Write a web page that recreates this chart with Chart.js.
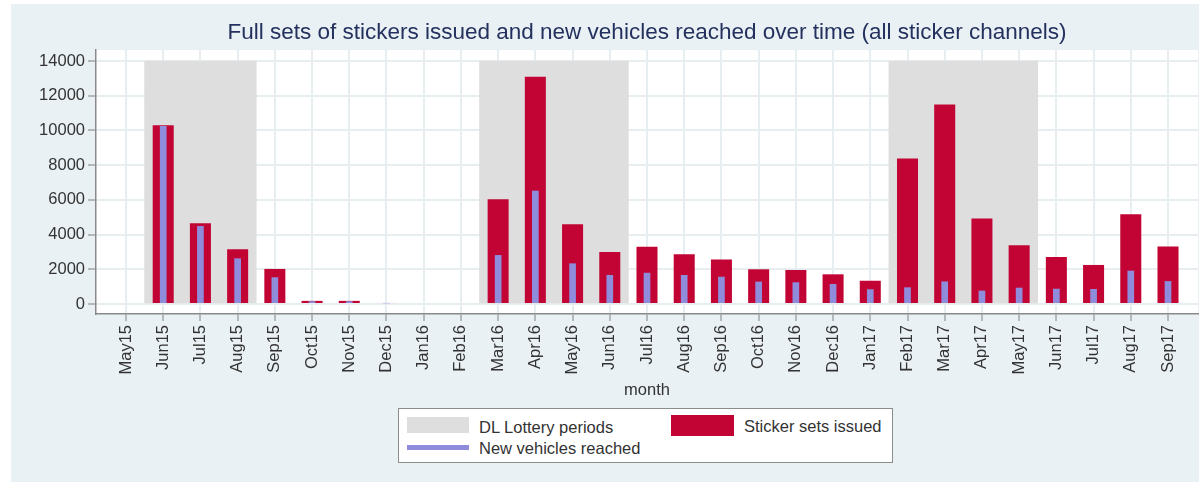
<!DOCTYPE html>
<html>
<head>
<meta charset="utf-8">
<title>Stickers issued and vehicles reached</title>
<script src="https://cdn.jsdelivr.net/npm/chart.js@4/dist/chart.umd.min.js"></script>
<style>
    body { margin: 0; background: #ffffff; font-family: "Liberation Sans", Arial, sans-serif; }
    #fundo { position: absolute; left: 11px; top: 4px; width: 1188px; height: 478px; background: #e9f1f4; }
    #grafico { position: absolute; left: 0; top: 0; }
    #legenda { position: absolute; left: 398px; top: 408px; width: 493px; height: 53px; background: #ffffff; border: 1px solid #8c8c8c; color: #333333; font-size: 16.5px; }
    #legenda .item { position: absolute; height: 22px; line-height: 22px; white-space: nowrap; }
    #legenda .caixa { position: absolute; }
</style>
</head>
<body>
<div id="fundo"></div>
<canvas id="grafico" width="1199" height="482"></canvas>
<div id="legenda"></div>

<script>
var meses = ['May15', 'Jun15', 'Jul15', 'Aug15', 'Sep15', 'Oct15', 'Nov15', 'Dec15', 'Jan16', 'Feb16',
    'Mar16', 'Apr16', 'May16', 'Jun16', 'Jul16', 'Aug16', 'Sep16', 'Oct16', 'Nov16', 'Dec16',
    'Jan17', 'Feb17', 'Mar17', 'Apr17', 'May17', 'Jun17', 'Jul17', 'Aug17', 'Sep17'];

var adesivos = [null, 10300, 4650, 3150, 2020, 180, 180, 60, null, null,
    6030, 13100, 4590, 3000, 3300, 2860, 2570, 2000, 1960, 1710,
    1340, 8390, 11500, 4920, 3380, 2710, 2250, 5170, 3320];

var veiculos = [null, 10250, 4490, 2630, 1540, 160, 160, 40, null, null,
    2820, 6530, 2340, 1670, 1800, 1670, 1570, 1290, 1250, 1150,
    850, 960, 1300, 770, 940, 880, 865, 1920, 1320];

// periodos do sorteio (faixa cinza ate o topo do eixo)
var sorteio = [null, 14000, 14000, 14000, null, null, null, null, null, null,
    14000, 14000, 14000, 14000, null, null, null, null, null, null,
    null, 14000, 14000, 14000, 14000, null, null, null, null];

var ticksY = [0, 2000, 4000, 6000, 8000, 10000, 12000, 14000];

var titulo = 'Full sets of stickers issued and new vehicles reached over time (all sticker channels)';
var nomes = ['DL Lottery periods', 'Sticker sets issued', 'New vehicles reached'];
var cores = ['#dedede', '#c20434', '#8f8cdc'];


function pontos(valores) {
    return valores.map(function (v, i) {
        return { x: i, y: v };
    });
}


// fundo branco so na area do grafico
var fundoArea = {
    id: 'fundoArea',
    beforeDraw: function (chart) {
        var a = chart.chartArea;
        var ctx = chart.ctx;
        ctx.save();
        ctx.fillStyle = '#ffffff';
        ctx.fillRect(a.left, a.top, a.right - a.left, a.bottom - a.top);
        ctx.restore();
    }
};


function montaLegenda() {
    var el = document.getElementById('legenda');
    var html = '';
    html += '<div class="caixa" style="left:8px;top:8px;width:62px;height:16px;background:' + cores[0] + '"></div>';
    html += '<div class="item" style="left:80px;top:7px">' + nomes[0] + '</div>';
    html += '<div class="caixa" style="left:272px;top:6px;width:63px;height:21px;background:' + cores[1] + '"></div>';
    html += '<div class="item" style="left:345px;top:6px">' + nomes[1] + '</div>';
    html += '<div class="caixa" style="left:8px;top:36px;width:62px;height:5px;background:' + cores[2] + '"></div>';
    html += '<div class="item" style="left:80px;top:28px">' + nomes[2] + '</div>';
    el.innerHTML = html;
}


function loadGrafico() {
    var fonte = '"Liberation Sans", Arial, sans-serif';
    var ctx = document.getElementById('grafico').getContext('2d');
    var grafico = new Chart(ctx, {
        type: 'bar',
        data: {
            datasets: [{
                label: nomes[2],
                data: pontos(veiculos),
                backgroundColor: cores[2],
                barPercentage: 0.18,
                categoryPercentage: 1,
                grouped: false,
                order: 1
            }, {
                label: nomes[1],
                data: pontos(adesivos),
                backgroundColor: cores[1],
                barPercentage: 0.565,
                categoryPercentage: 1,
                grouped: false,
                order: 2
            }, {
                label: nomes[0],
                data: pontos(sorteio),
                backgroundColor: cores[0],
                barPercentage: 1,
                categoryPercentage: 1,
                grouped: false,
                order: 3
            }]
        },
        options: {
            responsive: false,
            animation: false,
            layout: { padding: { left: 0, right: 1, top: 0, bottom: 78 } },
            plugins: {
                legend: { display: false },
                tooltip: { enabled: false },
                title: {
                    display: true,
                    text: titulo,
                    fullSize: false,
                    color: '#24315e',
                    font: { family: fonte, size: 22.5, weight: 'normal' },
                    padding: { top: 19.5, bottom: 3.5 }
                }
            },
            scales: {
                x: {
                    type: 'linear',
                    min: -0.806,
                    max: 28.806,
                    offset: false,
                    afterBuildTicks: function (s) {
                        s.ticks = meses.map(function (m, i) { return { value: i }; });
                    },
                    afterFit: function (s) { s.height = 90; },
                    ticks: {
                        autoSkip: false,
                        minRotation: 90,
                        maxRotation: 90,
                        padding: 4,
                        color: '#333333',
                        font: { family: fonte, size: 16.5 },
                        callback: function (v) { return meses[v]; }
                    },
                    grid: {
                        offset: false,
                        color: '#e7eef1',
                        lineWidth: 2,
                        tickColor: '#808080',
                        tickLength: 7,
                        tickWidth: 1
                    },
                    border: { color: '#8a8a8a', width: 1.5 },
                    title: {
                        display: true,
                        text: 'month',
                        color: '#333333',
                        font: { family: fonte, size: 16.5 },
                        padding: { top: 4, bottom: 4 }
                    }
                },
                y: {
                    min: -576,
                    max: 14634,
                    afterBuildTicks: function (s) {
                        s.ticks = ticksY.map(function (v) { return { value: v }; });
                    },
                    afterFit: function (s) { s.width = 96; },
                    ticks: {
                        padding: 3,
                        color: '#333333',
                        font: { family: fonte, size: 16.5 },
                        callback: function (v) { return String(v); }
                    },
                    grid: {
                        color: '#e7eef1',
                        lineWidth: 2,
                        tickColor: '#808080',
                        tickLength: 8,
                        tickWidth: 1
                    },
                    border: { color: '#8a8a8a', width: 1.5 }
                }
            }
        },
        plugins: [fundoArea]
    });
    return grafico;
}

montaLegenda();
loadGrafico();
</script>
</body>
</html>
